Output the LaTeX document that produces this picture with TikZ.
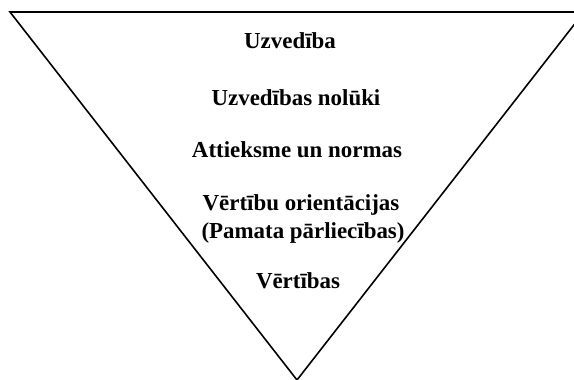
\documentclass[tikz,border=0pt]{standalone}
\usepackage{fontspec}
\setmainfont{Liberation Serif}
\usetikzlibrary{positioning}
\tikzset{lvl/.style={font=\bfseries\fontsize{23}{28}\selectfont,anchor=base,inner sep=0pt,align=center},
 edge/.style={line width=1.6pt,line join=miter}}
\begin{document}
\begin{tikzpicture}[x=1bp,y=-1bp]
\useasboundingbox (0,0) rectangle (574,379);
\clip (0,0) rectangle (574,379);
\coordinate (tl) at (10,12);\coordinate (tr) at (584,12);\coordinate (apex) at (297,380);
\draw[edge] (tl)--(tr)--(apex)--cycle;
\node[lvl] (uzv) at (290,48) {Uzvedība};
\node[lvl] (nol) at (296,105) {Uzvedības nolūki};
\node[lvl] (att) at (297,157) {Attieksme un normas};
\node[lvl] (ori) at (301,210) {Vērtību orientācijas};
\node[lvl] (pam) at (303,238) {(Pamata pārliecības)};
\node[lvl] (ver) at (298,288) {Vērtības};
\end{tikzpicture}
\end{document}
